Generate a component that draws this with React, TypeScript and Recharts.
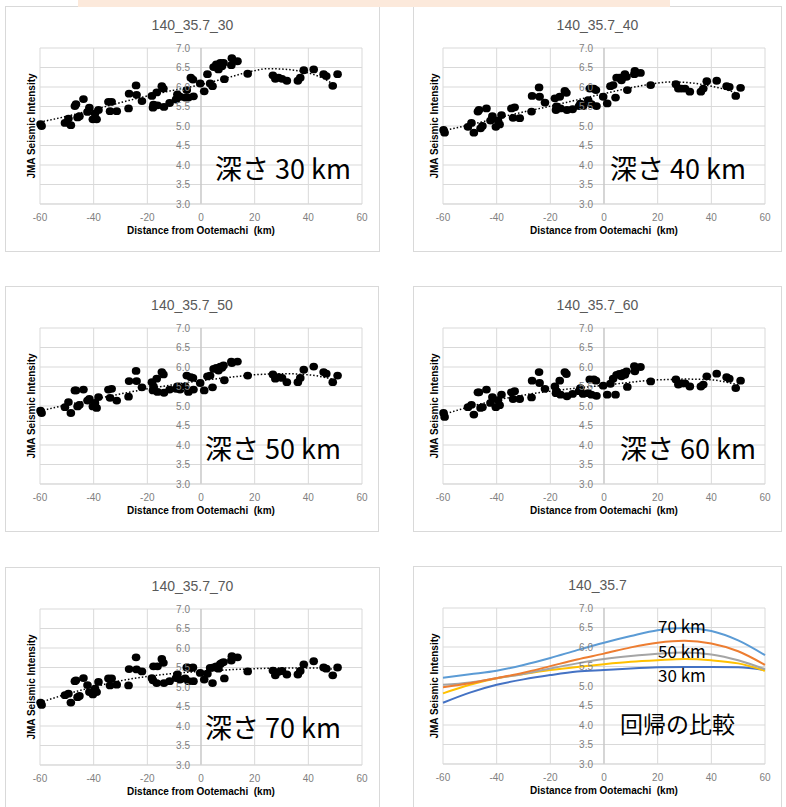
import React from 'react';
import { ComposedChart, Scatter, Line, XAxis, YAxis, CartesianGrid, ReferenceLine } from 'recharts';

// Station distances from Ootemachi (km), shared by every depth panel
const distanceKm = [
  -59.8, -59.4, -50.7, -49.4, -48.5, -47.0, -46.6, -46.0, -45.3, -43.8,
  -42.3, -41.6, -40.3, -39.5, -38.9, -38.2, -34.5, -33.9, -33.3, -31.4,
  -27.0, -26.8, -24.2, -24.0, -22.0, -18.3, -17.9, -17.7, -16.5, -16.2,
  -14.6, -14.0, -13.8, -11.7, -9.3, -8.8, -7.8, -5.9, -5.3, -4.7,
  -3.8, -3.0, -2.8, -0.3, 1.2, 2.4, 3.4, 4.3, 4.7, 5.7,
  6.5, 7.2, 7.8, 8.4, 8.7, 11.5, 11.3, 13.6, 17.4, 26.8,
  27.7, 28.9, 30.2, 32.0, 36.1, 37.0, 38.3, 42.0, 45.7, 46.7,
  49.1, 50.9,
];

// JMA seismic intensity per station, by source depth
const intensity30 = [
  5.05, 5.0, 5.08, 5.19, 5.02, 5.51, 5.56, 5.22, 5.25, 5.69,
  5.36, 5.47, 5.17, 5.32, 5.17, 5.41, 5.62, 5.38, 5.62, 5.38,
  5.45, 5.83, 6.04, 5.8, 5.64, 5.77, 5.47, 5.55, 5.86, 5.53,
  6.02, 5.96, 5.49, 5.59, 5.68, 5.81, 5.75, 5.73, 5.92, 5.73,
  6.24, 6.19, 5.76, 6.09, 5.89, 6.33, 6.09, 6.02, 6.51, 6.58,
  6.45, 6.62, 6.53, 6.62, 6.2, 6.74, 6.56, 6.66, 6.34, 6.3,
  6.21, 6.24, 6.21, 6.16, 6.16, 6.24, 6.43, 6.45, 6.33, 6.28,
  6.03, 6.33,
];
const intensity40 = [
  4.9, 4.83, 4.98, 5.08, 4.83, 5.37, 5.41, 4.94, 5.0, 5.45,
  5.14, 5.25, 4.98, 5.14, 5.04, 5.28, 5.45, 5.21, 5.48, 5.2,
  5.37, 5.77, 5.99, 5.75, 5.6, 5.71, 5.41, 5.5, 5.75, 5.45,
  5.9, 5.85, 5.41, 5.43, 5.51, 5.57, 5.51, 5.66, 5.96, 5.56,
  5.96, 5.92, 5.51, 5.75, 5.58, 6.02, 6.05, 5.73, 6.24, 6.24,
  6.17, 6.26, 6.33, 6.26, 5.92, 6.41, 6.33, 6.36, 6.05, 6.07,
  5.96, 5.96, 5.96, 5.88, 5.88, 5.96, 6.15, 6.16, 6.02, 6.0,
  5.77, 5.98,
];
const intensity50 = [
  4.88, 4.82, 4.97, 5.1, 4.82, 5.4, 5.4, 4.99, 5.03, 5.42,
  5.14, 5.18, 4.99, 5.08, 4.95, 5.23, 5.42, 5.21, 5.44, 5.14,
  5.24, 5.64, 5.9, 5.64, 5.48, 5.61, 5.4, 5.5, 5.7, 5.36,
  5.87, 5.81, 5.34, 5.42, 5.44, 5.5, 5.42, 5.5, 5.78, 5.36,
  5.74, 5.72, 5.42, 5.59, 5.4, 5.76, 5.78, 5.48, 5.95, 5.98,
  5.91, 6.01, 5.98, 6.04, 5.66, 6.1, 6.14, 6.14, 5.78, 5.81,
  5.7, 5.74, 5.72, 5.61, 5.61, 5.72, 5.93, 6.01, 5.87, 5.83,
  5.61, 5.78,
];
const intensity60 = [
  4.82, 4.72, 4.97, 5.03, 4.78, 5.35, 5.35, 4.95, 4.97, 5.42,
  5.08, 5.23, 4.97, 5.15, 5.02, 5.29, 5.35, 5.18, 5.38, 5.18,
  5.22, 5.65, 5.87, 5.59, 5.44, 5.5, 5.33, 5.38, 5.65, 5.29,
  5.87, 5.82, 5.25, 5.31, 5.38, 5.46, 5.31, 5.33, 5.68, 5.29,
  5.68, 5.65, 5.26, 5.52, 5.29, 5.57, 5.7, 5.29, 5.8, 5.82,
  5.76, 5.85, 5.8, 5.89, 5.49, 5.89, 6.02, 6.0, 5.63, 5.68,
  5.55, 5.58, 5.58, 5.5, 5.5, 5.55, 5.76, 5.83, 5.74, 5.7,
  5.46, 5.65,
];
const intensity70 = [
  4.6, 4.54, 4.79, 4.83, 4.6, 5.15, 5.17, 4.74, 4.77, 5.23,
  5.05, 4.87, 4.81, 4.96, 4.87, 5.13, 5.22, 5.04, 5.22, 5.06,
  5.04, 5.46, 5.76, 5.45, 5.4, 5.23, 5.17, 5.53, 5.1, 5.53,
  5.72, 5.62, 5.1, 5.15, 5.23, 5.32, 5.19, 5.22, 5.5, 5.15,
  5.49, 5.5, 5.15, 5.36, 5.19, 5.34, 5.49, 5.1, 5.5, 5.53,
  5.47, 5.59, 5.62, 5.64, 5.22, 5.79, 5.68, 5.76, 5.4, 5.42,
  5.3, 5.39, 5.41, 5.32, 5.32, 5.41, 5.58, 5.66, 5.5, 5.47,
  5.3, 5.5,
];

// Dotted polynomial trend read at these distances
const trendKm = [-60, -50, -40, -30, -20, -10, 0, 10, 20, 25, 30, 40, 45, 50];
const trend30 = [5.1, 5.25, 5.42, 5.6, 5.77, 5.92, 6.06, 6.24, 6.42, 6.47, 6.46, 6.36, 6.24, 6.04];
const trend40 = [4.88, 5.03, 5.2, 5.36, 5.51, 5.67, 5.83, 5.98, 6.1, 6.13, 6.12, 6.02, 5.94, 5.83];
const trend50 = [4.87, 5.03, 5.17, 5.31, 5.44, 5.55, 5.65, 5.73, 5.8, 5.82, 5.83, 5.8, 5.75, 5.67];
const trend60 = [4.78, 4.98, 5.15, 5.28, 5.38, 5.46, 5.53, 5.61, 5.67, 5.68, 5.69, 5.67, 5.62, 5.54];
const trend70 = [4.6, 4.82, 5.0, 5.16, 5.27, 5.35, 5.4, 5.44, 5.47, 5.48, 5.49, 5.49, 5.48, 5.45];

// Regression curves compared over the full range
const compareKm = [-60, -50, -40, -30, -20, -10, 0, 10, 20, 30, 40, 50, 60];
const compare30 = [5.21, 5.3, 5.39, 5.54, 5.72, 5.92, 6.11, 6.28, 6.43, 6.49, 6.41, 6.17, 5.79];
const compare40 = [4.97, 5.07, 5.2, 5.34, 5.51, 5.68, 5.83, 5.99, 6.11, 6.16, 6.09, 5.89, 5.54];
const compare50 = [5.03, 5.09, 5.2, 5.31, 5.45, 5.58, 5.69, 5.77, 5.83, 5.86, 5.81, 5.66, 5.43];
const compare60 = [4.81, 5.03, 5.2, 5.31, 5.41, 5.49, 5.56, 5.62, 5.66, 5.69, 5.66, 5.58, 5.39];
const compare70 = [4.57, 4.83, 5.03, 5.17, 5.28, 5.37, 5.41, 5.45, 5.48, 5.49, 5.49, 5.48, 5.41];

const xTicks = [-60, -40, -20, 0, 20, 40, 60];
const yTicks = [3.0, 3.5, 4.0, 4.5, 5.0, 5.5, 6.0, 6.5, 7.0];

const X_MIN = -60;
const X_MAX = 60;
const PLOT_W = 322;
const PLOT_H = 156;
const PLOT_TOP = 41;
const X_AXIS_H = 30;
const Y_AXIS_W = 1;
const GRID = '#d9d9d9';
const TICK = '#808080';

const toPoints = (xs: number[], ys: number[]) => xs.map((x, i) => ({ x, y: ys[i] }));

const dot = (p: any) => <ellipse cx={p.cx} cy={p.cy} rx={4.3} ry={3.9} fill="#000" />;

// y labels are drawn beside the 0 km line, where the vertical axis crosses
function YTick({ y, payload, zeroX }: any) {
  return (
    <text x={zeroX - 11} y={y} dy={3.5} textAnchor="end" fontSize={10} fill={TICK}>
      {Number(payload.value).toFixed(1)}
    </text>
  );
}

interface Note {
  text: string;
  x: number;
  y: number;
  size: number;
}

interface PanelProps {
  left: number;
  top: number;
  width: number;
  height: number;
  plotLeft: number;
  title: string;
  notes: Note[];
  children: React.ReactNode;
}

function Panel({ left, top, width, height, plotLeft, title, notes, children }: PanelProps) {
  const innerW = width - 2;
  const innerH = height - 2;
  const margin = {
    top: PLOT_TOP,
    left: plotLeft - Y_AXIS_W,
    right: innerW - plotLeft - PLOT_W,
    bottom: innerH - PLOT_TOP - PLOT_H - X_AXIS_H,
  };
  const zeroX = plotLeft + (PLOT_W * (0 - X_MIN)) / (X_MAX - X_MIN);

  return (
    <div
      style={{
        position: 'absolute',
        left,
        top,
        width,
        height,
        boxSizing: 'border-box',
        border: `1px solid ${GRID}`,
        background: '#fff',
      }}
    >
      <ComposedChart width={innerW} height={innerH} margin={margin}>
        <CartesianGrid stroke={GRID} />
        <XAxis
          type="number"
          dataKey="x"
          domain={[X_MIN, X_MAX]}
          ticks={xTicks}
          interval={0}
          height={X_AXIS_H}
          axisLine={{ stroke: GRID }}
          tickLine={false}
          tickMargin={4}
          tick={{ fontSize: 10, fill: TICK }}
        />
        <YAxis
          type="number"
          dataKey="y"
          domain={[3, 7]}
          ticks={yTicks}
          interval={0}
          width={Y_AXIS_W}
          axisLine={false}
          tickLine={false}
          tick={<YTick zeroX={zeroX} />}
        />
        <ReferenceLine x={0} stroke="#bfbfbf" />
        {children}
      </ComposedChart>
      <div
        style={{
          position: 'absolute',
          left: 0,
          width: innerW,
          top: 18,
          transform: 'translateY(-50%)',
          textAlign: 'center',
          fontSize: 14,
          color: '#595959',
          lineHeight: 1,
        }}
      >
        {title}
      </div>
      <div
        style={{
          position: 'absolute',
          left: plotLeft - 8,
          top: PLOT_TOP + PLOT_H / 2,
          transform: 'translate(-50%, -50%) rotate(-90deg)',
          fontSize: 10,
          fontWeight: 'bold',
          whiteSpace: 'nowrap',
          lineHeight: 1,
          color: '#000',
        }}
      >
        JMA Seismic Intensity
      </div>
      <div
        style={{
          position: 'absolute',
          left: plotLeft + PLOT_W / 2,
          top: PLOT_TOP + PLOT_H + 27,
          transform: 'translate(-50%, -50%)',
          fontSize: 10,
          fontWeight: 'bold',
          whiteSpace: 'pre',
          lineHeight: 1,
          color: '#000',
        }}
      >
        {'Distance from Ootemachi  (km)'}
      </div>
      {notes.map((n) => (
        <div
          key={n.text}
          style={{
            position: 'absolute',
            left: n.x,
            top: n.y,
            transform: 'translateY(-50%)',
            fontSize: n.size,
            fontFamily: '"Noto Sans CJK JP", "Noto Sans", sans-serif',
            whiteSpace: 'nowrap',
            lineHeight: 1,
            color: '#000',
          }}
        >
          {n.text}
        </div>
      ))}
    </div>
  );
}

function depthSeries(ys: number[], trend: number[]) {
  return [
    <Line
      key="trend"
      data={toPoints(trendKm, trend)}
      dataKey="y"
      type="monotone"
      stroke="#000"
      strokeWidth={1.5}
      strokeDasharray="1.5 2"
      dot={false}
      isAnimationActive={false}
    />,
    <Scatter
      key="pts"
      data={toPoints(distanceKm, ys)}
      dataKey="y"
      shape={dot}
      isAnimationActive={false}
    />,
  ];
}

const compareSeries = [
  { ys: compare70, color: '#4472c4' },
  { ys: compare60, color: '#ffc000' },
  { ys: compare50, color: '#a5a5a5' },
  { ys: compare40, color: '#ed7d31' },
  { ys: compare30, color: '#5b9bd5' },
];

export default function App() {
  return (
    <div
      style={{
        position: 'absolute',
        left: 0,
        top: 0,
        width: 786,
        height: 807,
        overflow: 'hidden',
        background: '#fff',
        fontFamily: '"Liberation Sans", Arial, sans-serif',
      }}
    >
      <Panel left={5} top={6} width={375} height={246} plotLeft={34} title="140_35.7_30"
        notes={[{ text: '深さ 30 km', x: 209, y: 160, size: 27 }]}>
        {depthSeries(intensity30, trend30)}
      </Panel>
      <Panel left={413} top={6} width={369} height={246} plotLeft={29} title="140_35.7_40"
        notes={[{ text: '深さ 40 km', x: 196, y: 160, size: 27 }]}>
        {depthSeries(intensity40, trend40)}
      </Panel>
      <Panel left={5} top={286} width={374} height={246} plotLeft={34} title="140_35.7_50"
        notes={[{ text: '深さ 50 km', x: 199, y: 160, size: 27 }]}>
        {depthSeries(intensity50, trend50)}
      </Panel>
      <Panel left={413} top={286} width={369} height={246} plotLeft={29} title="140_35.7_60"
        notes={[{ text: '深さ 60 km', x: 206, y: 160, size: 27 }]}>
        {depthSeries(intensity60, trend60)}
      </Panel>
      <Panel left={5} top={567} width={375} height={246} plotLeft={34} title="140_35.7_70"
        notes={[{ text: '深さ 70 km', x: 199, y: 158, size: 27 }]}>
        {depthSeries(intensity70, trend70)}
      </Panel>
      <Panel left={413} top={566} width={369} height={246} plotLeft={29} title="140_35.7"
        notes={[
          { text: '回帰の比較', x: 206, y: 156, size: 23 },
          { text: '70 km', x: 244, y: 58, size: 17 },
          { text: '50 km', x: 244, y: 83, size: 17 },
          { text: '30 km', x: 244, y: 107, size: 17 },
        ]}>
        {compareSeries.map((s) => (
          <Line
            key={s.color}
            data={toPoints(compareKm, s.ys)}
            dataKey="y"
            type="monotone"
            stroke={s.color}
            strokeWidth={2}
            dot={false}
            isAnimationActive={false}
          />
        ))}
      </Panel>
      <div style={{ position: 'absolute', left: 78, top: 0, width: 592, height: 7, background: '#fce9db' }} />
    </div>
  );
}
